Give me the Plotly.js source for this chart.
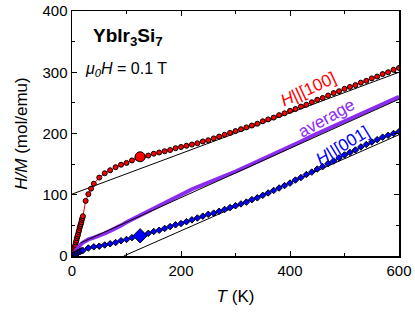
<!DOCTYPE html>
<html><head><meta charset="utf-8">
<script src="https://cdn.plot.ly/plotly-3.0.1.min.js"></script>
<style>html,body{margin:0;padding:0;background:#fff}</style>
</head><body><div id="chart" style="width:415px;height:313px"></div>
<script>
// H||[100] data
const t100 = [2,3,4,5,6,7,8,9,10,11,12,13,14,15,16,17,18,19,20,25,30,35,40,50,60,70,80,90,100,110,120,130,140,150,160,170,180,190,200,210,220,230,240,250,260,270,280,290,300,310,320,330,340,350,360,370,380,390,400,410,420,430,440,450,460,470,480,490,500,510,520,530,540,550,560,570,580,590,600];
const y100 = [5,8,12,15,18,22,25,29,32,35,39,42,46,49,52,55,59,62,65,90,101,110,118,128,135,140,145,149,152,156,160,162,164,167,169,171,173,176,178,180,182,184,187,189,192,195,198,201,204,207,210,213,216,220,223,226,230,233,237,240,244,247,251,255,258,262,266,269,273,276,279,283,286,290,293,297,300,304,307];
// average
const tAvg = [2,5,8,11,15,20,25,30,40,50,60,70,80,90,100,120,140,160,180,200,220,240,260,280,300,320,340,360,380,400,420,440,460,480,500,520,540,560,580,600];
const yAvg = [2,6,10,14,18,22,25,27,30,33,37,41,45,50,55,64,73,83,92,101,109,116,123,130,138,146,154,162,170,178,187,196,204,212,220,228,236,244,252,260];
// H||[001] data
const t001 = [2,3,4,5,6,8,10,12,14,16,18,20,30,40,50,60,70,80,90,100,110,120,130,140,150,160,170,180,190,200,210,220,230,240,250,260,270,280,290,300,310,320,330,340,350,360,370,380,390,400,410,420,430,440,450,460,470,480,490,500,510,520,530,540,550,560,570,580,590,600];
const y001 = [1,1.5,2,2.5,3,4,5,6,7,8,8.5,9,13,15,16,18,20,22,25,27,30,32,34,37,40,42,45,48,51,53,56,59,62,65,68,70,73,76,79,82,85,88,92,95,99,103,107,111,115,119,124,128,133,137,142,146,151,155,160,165,169,173,178,182,186,190,194,197,200,203];
// highlighted points
const tMark = [125];
const yMark100 = [162];
const yMark001 = [33];
// Curie-Weiss fit lines
const fit100T = [0,600], fit100Y = [101,300];
const fitAvgT = [15,600], fitAvgY = [21,256];
const fit001T = [95,600], fit001Y = [0,198];

const traces = [
  {x: fit100T, y: fit100Y, mode:'lines', line:{color:'#000', width:1}},
  {x: fit001T, y: fit001Y, mode:'lines', line:{color:'#000', width:1}},
  {x: t100, y: y100, mode:'lines+markers', line:{color:'#ff0000', width:1},
   marker:{symbol:'circle', size:5, color:'#ff0000', line:{color:'#000', width:1}}},
  {x: tAvg, y: yAvg, mode:'lines', line:{color:'#8c2cf0', width:4}},
  {x: fitAvgT, y: fitAvgY, mode:'lines', line:{color:'#000', width:1}},
  {x: t001, y: y001, mode:'lines+markers', line:{color:'#0000ff', width:1},
   marker:{symbol:'diamond', size:5, color:'#0000ff', line:{color:'#000', width:1}}},
  {x: tMark, y: yMark100, mode:'markers', marker:{symbol:'circle', size:10, color:'#ff0000', line:{color:'#000', width:1}}},
  {x: tMark, y: yMark001, mode:'markers', marker:{symbol:'diamond', size:11, color:'#0000ff', line:{color:'#000', width:1}}}
];

const axisCommon = {
  showgrid:false, zeroline:false, showline:true, linecolor:'#000', linewidth:1.5,
  mirror:'ticks', ticks:'inside', ticklen:5, tickwidth:1, tickcolor:'#000',
  tickfont:{size:15, color:'#000'}
};

const layout = {
  width:415, height:313,
  margin:{l:72, r:16, t:11, b:57},
  paper_bgcolor:'#fff', plot_bgcolor:'#fff',
  font:{family:'Liberation Sans, Arial, sans-serif', color:'#000'},
  showlegend:false,
  xaxis: Object.assign({}, axisCommon, {
    range:[0,600], tickvals:[0,200,400,600],
    minor:{tickvals:[100,300,500], ticklen:3, ticks:'inside', tickcolor:'#000'},
    title:{text:'<i>T</i> (K)', font:{size:17}, standoff:12}
  }),
  yaxis: Object.assign({}, axisCommon, {
    range:[0,400], tickvals:[0,100,200,300,400],
    minor:{tickvals:[50,150,250,350], ticklen:3, ticks:'inside', tickcolor:'#000'},
    title:{text:'<i>H/M</i> (mol/emu)', font:{size:17}, standoff:10}
  }),
  annotations:[
    {xref:'paper', yref:'paper', x:0.058, y:0.895, xanchor:'left', yanchor:'middle', showarrow:false,
     text:'<b>YbIr<sub>3</sub>Si<sub>7</sub></b>', font:{size:19}},
    {xref:'paper', yref:'paper', x:0.035, y:0.76, xanchor:'left', yanchor:'middle', showarrow:false,
     text:'<i>μ<sub>0</sub>H</i> = 0.1 T', font:{size:16}},
    {xref:'paper', yref:'paper', x:0.722, y:0.678, xanchor:'center', yanchor:'middle', showarrow:false, textangle:-25,
     text:'<i>H</i>||[100]', font:{size:17, color:'#ff0000'}},
    {xref:'paper', yref:'paper', x:0.777, y:0.56, xanchor:'center', yanchor:'middle', showarrow:false, textangle:-29,
     text:'average', font:{size:17, color:'#8c2cf0'}},
    {xref:'paper', yref:'paper', x:0.828, y:0.453, xanchor:'center', yanchor:'middle', showarrow:false, textangle:-31,
     text:'<i>H</i>||[001]', font:{size:17, color:'#0000ff'}}
  ]
};

Plotly.newPlot('chart', traces, layout, {staticPlot:true, displayModeBar:false});
</script>
</body></html>
